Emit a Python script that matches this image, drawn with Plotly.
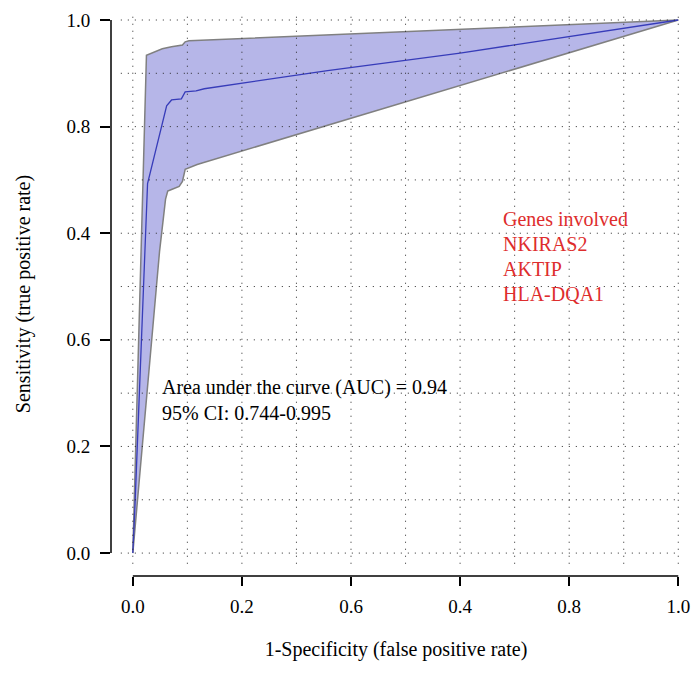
import plotly.graph_objects as go

# ROC curve
roc_fpr = [0.0, 0.004, 0.027, 0.062, 0.071, 0.089, 0.096, 0.116, 0.131, 0.357, 0.6, 1.0]
roc_tpr = [0.0, 0.09, 0.693, 0.839, 0.850, 0.852, 0.865, 0.867, 0.871, 0.905, 0.938, 1.0]

# Upper CI bound
ci_hi_fpr = [0.0, 0.025, 0.054, 0.071, 0.091, 0.096, 0.103, 1.0]
ci_hi_tpr = [0.0, 0.934, 0.946, 0.950, 0.953, 0.959, 0.961, 1.0]

# Lower CI bound
ci_lo_fpr = [0.0, 0.049, 0.060, 0.064, 0.071, 0.085, 0.091, 0.096, 0.103, 0.118, 1.0]
ci_lo_tpr = [0.0, 0.566, 0.664, 0.679, 0.682, 0.688, 0.697, 0.720, 0.723, 0.729, 1.0]

tick_vals = [0.0, 0.2, 0.4, 0.6, 0.8, 1.0]
x_tick_text = ["0.0", "0.2", "0.6", "0.4", "0.8", "1.0"]
y_tick_text = ["0.0", "0.2", "0.6", "0.4", "0.8", "1.0"]
grid_vals = [i / 10 for i in range(11)]

auc_lines = ["Area under the curve (AUC) = 0.94", "95% CI: 0.744-0.995"]
gene_lines = ["Genes involved", "NKIRAS2", "AKTIP", "HLA-DQA1"]

FONT = "Liberation Serif"
XR = [-0.04, 1.005]
YR = [-0.043, 1.015]

fig = go.Figure()

poly_x = ci_hi_fpr + ci_lo_fpr[::-1]
poly_y = ci_hi_tpr + ci_lo_tpr[::-1]
fig.add_trace(go.Scatter(x=poly_x, y=poly_y, mode="lines", fill="toself",
                         fillcolor="rgb(182,182,232)",
                         line=dict(color="rgb(128,128,128)", width=1.5),
                         hoverinfo="skip", showlegend=False))
fig.add_trace(go.Scatter(x=roc_fpr, y=roc_tpr, mode="lines",
                         line=dict(color="rgb(55,60,185)", width=1.3),
                         showlegend=False))

shapes = []
for g in grid_vals:
    shapes.append(dict(type="line", xref="x", yref="y", x0=g, x1=g, y0=-0.02, y1=1.015,
                       line=dict(color="rgb(40,40,40)", width=1, dash="1px,6px"), layer="above"))
    shapes.append(dict(type="line", xref="x", yref="y", x0=-0.022, x1=1.004, y0=g, y1=g,
                       line=dict(color="rgb(40,40,40)", width=1, dash="1px,6px"), layer="above"))


def px(v, r):
    return (v - r[0]) / (r[1] - r[0])


# R-style detached axis lines
shapes.append(dict(type="line", xref="paper", yref="paper", x0=0, x1=0,
                   y0=px(0, YR), y1=px(1, YR), line=dict(color="black", width=1.5)))
shapes.append(dict(type="line", xref="paper", yref="paper", y0=0, y1=0,
                   x0=px(0, XR), x1=px(1, XR), line=dict(color="black", width=1.5)))

annotations = []
for i, t in enumerate(auc_lines):
    annotations.append(dict(x=0.049, y=0.31 - i * 0.047, xref="x", yref="y", text=t,
                            showarrow=False, xanchor="left", yanchor="middle",
                            font=dict(family=FONT, size=20, color="black")))
for i, t in enumerate(gene_lines):
    annotations.append(dict(x=0.675, y=0.627 - i * 0.047, xref="x", yref="y", text=t,
                            showarrow=False, xanchor="left", yanchor="middle",
                            font=dict(family=FONT, size=20, color="rgb(222,45,45)")))

fig.update_layout(
    width=700, height=673,
    margin=dict(l=111, r=13, t=10, b=97),
    paper_bgcolor="white", plot_bgcolor="white",
    shapes=shapes, annotations=annotations,
    font=dict(family=FONT, size=19, color="black"),
    xaxis=dict(range=XR, showgrid=False, zeroline=False, showline=False,
               tickvals=tick_vals, ticktext=x_tick_text, ticks="outside",
               ticklen=9, tickwidth=1.5, tickcolor="black",
               ticklabelstandoff=4, tickfont=dict(family=FONT, size=19),
               title=dict(text="1-Specificity (false positive rate)", standoff=26,
                          font=dict(family=FONT, size=20))),
    yaxis=dict(range=YR, showgrid=False, zeroline=False, showline=False,
               tickvals=tick_vals, ticktext=y_tick_text, ticks="outside",
               ticklen=10, tickwidth=1.5, tickcolor="black",
               ticklabelstandoff=6, tickfont=dict(family=FONT, size=19),
               title=dict(text="Sensitivity (true positive rate)", standoff=30,
                          font=dict(family=FONT, size=20))),
)

fig.write_html("out.html")
